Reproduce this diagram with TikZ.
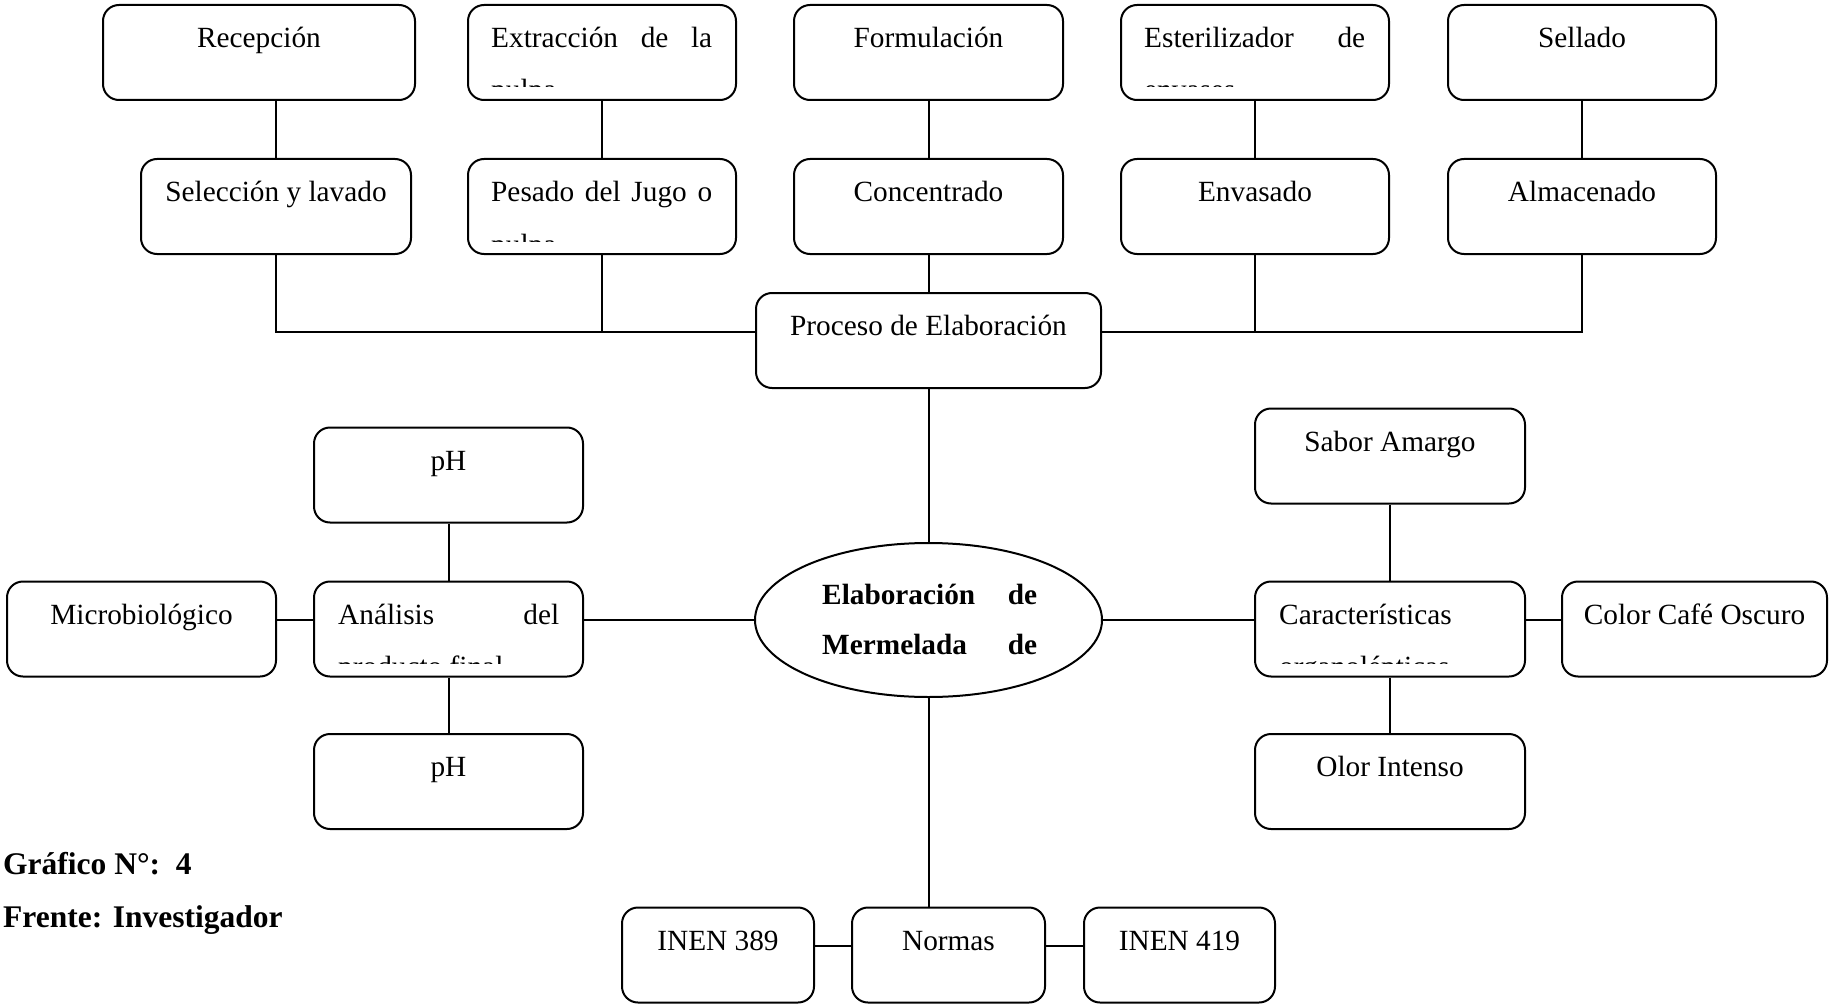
\documentclass[tikz,border=0pt]{standalone}
\usepackage{fontspec}
\setmainfont{Liberation Serif}
\usetikzlibrary{shapes.geometric,calc}
\newcommand\clipline[4]{%
  \begin{scope}
    \clip (#1.north west) rectangle ([yshift=14pt]#1.south east);
    \node[txt, anchor=base west] (#2) at ([xshift=#3,yshift=-96pt]#1.north west) {#4};
  \end{scope}}
\begin{document}
\begin{tikzpicture}[x=1pt,y=-1pt,
  bx/.style={draw, line width=2pt, rounded corners=16pt, rectangle, inner sep=0pt, minimum height=95pt},
  txt/.style={font=\fontsize{29.3}{35}\selectfont, inner sep=0pt},
  btxt/.style={font=\fontsize{31.5}{38}\selectfont\bfseries, inner sep=0pt},
  ln/.style={line width=2pt}]
\useasboundingbox (0,0) rectangle (1829,1006);

% top row
\node[bx, minimum width=312pt] (rec) at (259,52.5) {};
\node[bx, minimum width=268pt] (ext) at (602,52.5) {};
\node[bx, minimum width=269pt] (for) at (928.5,52.5) {};
\node[bx, minimum width=268pt] (est) at (1255,52.5) {};
\node[bx, minimum width=268pt] (sel) at (1582,52.5) {};
% second row
\node[bx, minimum width=270pt] (lav) at (276,206.5) {};
\node[bx, minimum width=268pt] (pes) at (602,206.5) {};
\node[bx, minimum width=269pt] (con) at (928.5,206.5) {};
\node[bx, minimum width=268pt] (env) at (1255,206.5) {};
\node[bx, minimum width=268pt] (alm) at (1582,206.5) {};
% process
\node[bx, minimum width=345pt] (proc) at (928.5,340.5) {};
% ellipse
\node[draw, line width=2pt, ellipse, inner sep=0pt, minimum width=347pt, minimum height=154pt] (ell) at (928.5,620) {};
% left cluster
\node[bx, minimum width=269pt] (pha) at (448.5,475) {};
\node[bx, minimum width=269pt] (ana) at (448.5,629) {};
\node[bx, minimum width=269pt] (phb) at (448.5,781.5) {};
\node[bx, minimum width=269pt] (mic) at (141.5,629) {};
% right cluster
\node[bx, minimum width=270pt] (sab) at (1390,456) {};
\node[bx, minimum width=270pt] (car) at (1390,629) {};
\node[bx, minimum width=270pt] (olo) at (1390,781.5) {};
\node[bx, minimum width=265pt] (col) at (1694.5,629) {};
% bottom
\node[bx, minimum width=192pt] (ia) at (718,955) {};
\node[bx, minimum width=193pt] (nor) at (948.5,955) {};
\node[bx, minimum width=191pt] (ib) at (1179.5,955) {};

% texts
\node[txt, anchor=base] (rect) at ([yshift=-43.5pt]rec.north) {Recepción};
\node[txt, anchor=base west] (extt) at ([xshift=24pt,yshift=-43.5pt]ext.north west) {\makebox[221pt][s]{Extracción de la}};
\clipline{ext}{extu}{24pt}{pulpa}
\node[txt, anchor=base] (fort) at ([yshift=-43.5pt]for.north) {Formulación};
\node[txt, anchor=base west] (estt) at ([xshift=24pt,yshift=-43.5pt]est.north west) {\makebox[221pt][s]{Esterilizador de}};
\clipline{est}{estu}{24pt}{envases}
\node[txt, anchor=base] (selt) at ([yshift=-43.5pt]sel.north) {Sellado};

\node[txt, anchor=base] (lavt) at ([yshift=-43.5pt]lav.north) {Selección y lavado};
\node[txt, anchor=base west] (pest) at ([xshift=24pt,yshift=-43.5pt]pes.north west) {\makebox[221pt][s]{Pesado del Jugo o}};
\clipline{pes}{pesu}{24pt}{pulpa}
\node[txt, anchor=base] (cont) at ([yshift=-43.5pt]con.north) {Concentrado};
\node[txt, anchor=base] (envt) at ([yshift=-43.5pt]env.north) {Envasado};
\node[txt, anchor=base] (almt) at ([yshift=-43.5pt]alm.north) {Almacenado};

\node[txt, anchor=base] (proct) at ([yshift=-43.5pt]proc.north) {Proceso de Elaboración};

\node[txt, anchor=base west, font=\fontsize{29.3}{35}\selectfont\bfseries] (ellt) at (822,604) {\makebox[215pt][s]{Elaboración de}};
\node[txt, anchor=base west, font=\fontsize{29.3}{35}\selectfont\bfseries] (ellu) at (822,654) {\makebox[215pt][s]{Mermelada de}};

\node[txt, anchor=base] (phat) at ([yshift=-43.5pt]pha.north) {pH};
\node[txt, anchor=base west] (anat) at ([xshift=25pt,yshift=-43.5pt]ana.north west) {\makebox[221pt][s]{Análisis del}};
\clipline{ana}{anau}{25pt}{producto final}
\node[txt, anchor=base] (phbt) at ([yshift=-43.5pt]phb.north) {pH};
\node[txt, anchor=base] (mict) at ([yshift=-43.5pt]mic.north) {Microbiológico};

\node[txt, anchor=base] (sabt) at ([yshift=-43.5pt]sab.north) {Sabor Amargo};
\node[txt, anchor=base west] (cart) at ([xshift=25pt,yshift=-43.5pt]car.north west) {Características};
\clipline{car}{caru}{25pt}{organolépticas}
\node[txt, anchor=base] (olot) at ([yshift=-43.5pt]olo.north) {Olor Intenso};
\node[txt, anchor=base] (colt) at ([yshift=-43.5pt]col.north) {Color Café Oscuro};

\node[txt, anchor=base] (iat) at ([yshift=-43.5pt]ia.north) {INEN 389};
\node[txt, anchor=base] (nort) at ([yshift=-43.5pt]nor.north) {Normas};
\node[txt, anchor=base] (ibt) at ([yshift=-43.5pt]ib.north) {INEN 419};

\node[btxt, anchor=base west] (graf) at (3,874) {Gráfico N°:\ \ 4};
\node[btxt, anchor=base west] (fren) at (3,927) {Frente: Investigador};

% connectors
\draw[ln] (lav.north) -- (lav.north |- rec.south);
\draw[ln] (ext.south) -- (pes.north);
\draw[ln] (for.south) -- (con.north);
\draw[ln] (est.south) -- (env.north);
\draw[ln] (sel.south) -- (alm.north);
\coordinate (busl) at ([yshift=8.5pt]proc.west);
\coordinate (busr) at ([yshift=8.5pt]proc.east);
\draw[ln] (lav.south) |- (busl);
\draw[ln] (pes.south) -- (pes.south |- busl);
\draw[ln] (con.south) -- (proc.north);
\draw[ln] (alm.south) |- (busr);
\draw[ln] (env.south) -- (env.south |- busr);
\draw[ln] (proc.south) -- (ell.north);
\draw[ln] (ell.west) -- (ell.west -| ana.east);
\draw[ln] (ell.east) -- (ell.east -| car.west);
\draw[ln] (ell.south) -- (ell.south |- nor.north);
\draw[ln] ([yshift=9pt]mic.east) -- ([yshift=9pt]ana.west);
\draw[ln] ([yshift=9pt]car.east) -- ([yshift=9pt]col.west);
\draw[ln] (pha.south) -- (ana.north);
\draw[ln] (ana.south) -- (phb.north);
\draw[ln] (sab.south) -- (car.north);
\draw[ln] (car.south) -- (olo.north);
\draw[ln] ([yshift=9pt]ia.east) -- ([yshift=9pt]nor.west);
\draw[ln] ([yshift=9pt]nor.east) -- ([yshift=9pt]ib.west);
\end{tikzpicture}
\end{document}
